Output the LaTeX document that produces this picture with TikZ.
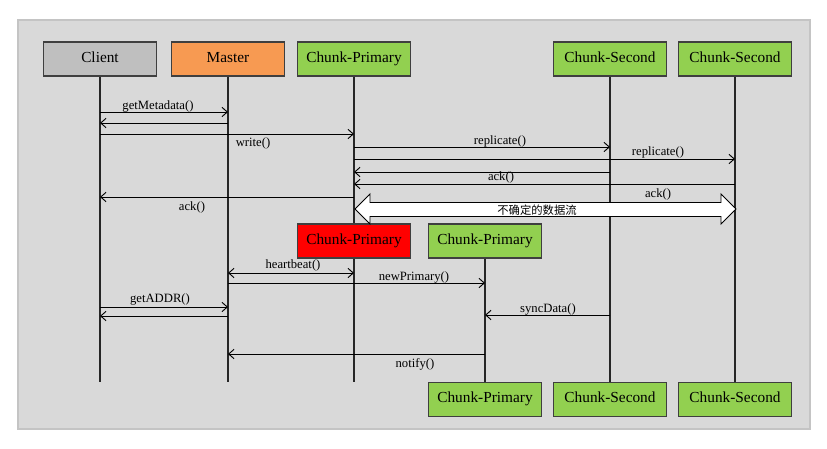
\documentclass[tikz,border=0pt]{standalone}
\usepackage{fontspec}
\setmainfont{Liberation Serif}
\newfontfamily\cjk{Noto Sans CJK SC}
\usetikzlibrary{arrows.meta}
\definecolor{panelgray}{HTML}{D9D9D9}
\definecolor{paneledge}{HTML}{C4C4C4}
\definecolor{clientgray}{HTML}{BFBFBF}
\definecolor{masterorange}{HTML}{F79A52}
\definecolor{chunkgreen}{HTML}{92D050}
\definecolor{chunkred}{HTML}{FF0000}
\definecolor{boxedge}{HTML}{3F3F3F}
\begin{document}
\begin{tikzpicture}[x=0.75pt,y=-0.75pt,
  actor/.style={draw=boxedge,line width=1.1pt,minimum width=84.5pt,minimum height=25.5pt,inner sep=0pt,text height=7.6pt,text depth=2.6pt,font=\fontsize{11.5}{13}\selectfont},
  life/.style={draw=black!85,line width=1pt},
  msg/.style={draw=black,line width=0.7pt,-{Straight Barb[length=4pt,width=7pt]}},
  bimsg/.style={draw=black,line width=0.7pt,{Straight Barb[length=4pt,width=7pt]}-{Straight Barb[length=4pt,width=7pt]}},
  lbl/.style={inner sep=0pt,text height=6.8pt,text depth=2pt,font=\fontsize{9.5}{11}\selectfont}]
\useasboundingbox (0,0) rectangle (827,449);
\fill[white] (0,0) rectangle (827,449);
\draw[fill=panelgray,draw=paneledge,line width=1pt] (18,20) rectangle (810,429);

% top actors
\node[actor,fill=clientgray] (client) at (100,59) {Client};
\node[actor,fill=masterorange] (master) at (228,59) {Master};
\node[actor,fill=chunkgreen] (cp) at (354,59) {Chunk-Primary};
\node[actor,fill=chunkgreen] (cs1) at (610,59) {Chunk-Second};
\node[actor,fill=chunkgreen] (cs2) at (735,59) {Chunk-Second};

% lifeline ends
\coordinate (clientEnd) at (100,382);
\coordinate (masterEnd) at (228,382);
\coordinate (cpEnd) at (354,382);

% bottom actors
\node[actor,fill=chunkgreen] (ncpB) at (485,399.5) {Chunk-Primary};
\node[actor,fill=chunkgreen] (cs1B) at (610,399.5) {Chunk-Second};
\node[actor,fill=chunkgreen] (cs2B) at (735,399.5) {Chunk-Second};

% lifelines
\draw[life] (client.south) -- (clientEnd);
\draw[life] (master.south) -- (masterEnd);
\draw[life] (cp.south) -- (cpEnd);
\draw[life] (cs1.south) -- (cs1B.north);
\draw[life] (cs2.south) -- (cs2B.north);

% middle actors
\node[actor,fill=chunkred] (oldcp) at (354,241) {Chunk-Primary};
\node[actor,fill=chunkgreen] (ncp) at (485,241) {Chunk-Primary};
\draw[life] (ncp.south) -- (ncpB.north);

% messages
\draw[msg] (client |- 0,112) -- (master |- 0,112);
\node[lbl] at (158,106) {getMetadata()};
\draw[msg] (master |- 0,123) -- (client |- 0,123);

\draw[msg] (client |- 0,134) -- (cp |- 0,134);
\node[lbl] at (253,143) {write()};

\draw[msg] (cp |- 0,147) -- (cs1 |- 0,147);
\node[lbl] at (500,141) {replicate()};
\draw[msg] (cp |- 0,159) -- (cs2 |- 0,159);
\node[lbl] at (658,152) {replicate()};

\draw[msg] (cs1 |- 0,172) -- (cp |- 0,172);
\node[lbl] at (501,177) {ack()};
\draw[msg] (cs2 |- 0,184) -- (cp |- 0,184);
\node[lbl] at (658,194) {ack()};
\draw[msg] (cp |- 0,197) -- (client |- 0,197);
\node[lbl] at (192,207) {ack()};

% big double arrow
\draw[fill=white,draw=black,line width=0.7pt]
  (355,209) -- (370,194) -- (370,202.5) -- (721,202.5) -- (721,194) -- (736,209)
  -- (721,224) -- (721,216.5) -- (370,216.5) -- (370,224) -- cycle;
\node[inner sep=0pt,font=\cjk\fontsize{8.5}{10}\selectfont] (flow) at (537,210) {不确定的数据流};

\draw[bimsg] (master |- 0,273) -- (oldcp |- 0,273);
\node[lbl] at (293,265) {heartbeat()};
\draw[msg] (master |- 0,283) -- (ncp |- 0,283);
\node[lbl] at (414,277) {newPrimary()};

\draw[msg] (client |- 0,307) -- (master |- 0,307);
\node[lbl] at (160,299) {getADDR()};
\draw[msg] (master |- 0,316) -- (client |- 0,316);

\draw[msg] (cs1 |- 0,315) -- (ncp |- 0,315);
\node[lbl] at (548,309) {syncData()};

\draw[msg] (ncp |- 0,354) -- (master |- 0,354);
\node[lbl] at (415,364) {notify()};
\end{tikzpicture}
\end{document}
